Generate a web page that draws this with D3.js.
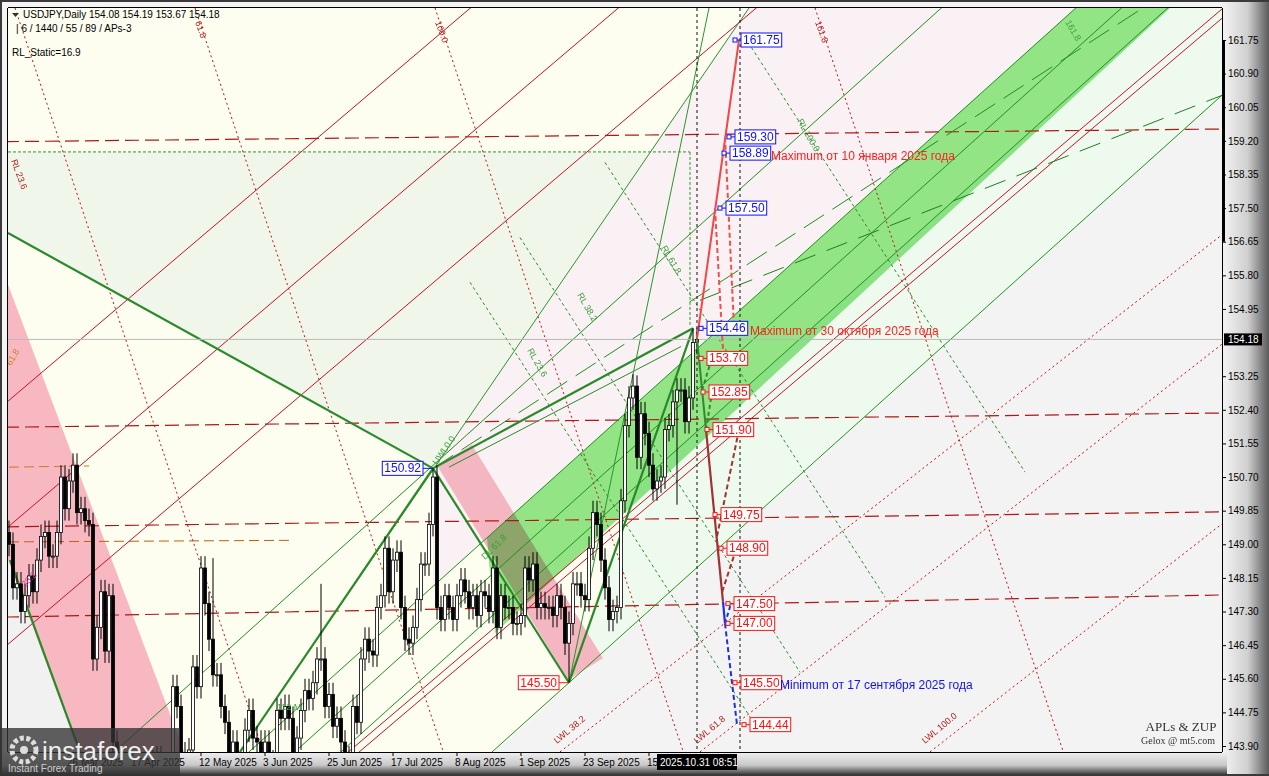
<!DOCTYPE html>
<html><head><meta charset="utf-8">
<script src="https://cdn.jsdelivr.net/npm/d3@7"></script>
<style>body{margin:0;background:#555;}svg{display:block;font-family:"Liberation Sans",Arial,sans-serif;}</style>
</head><body><svg id="c" width="1269" height="776"></svg>
<script>
// ---------- data ----------
const startDate = "2025-03-05";
const closes = [149.0,147.9,148.0,147.3,147.7,148.2,147.8,148.6,149.2,149.3,148.7,148.7,149.3,150.7,149.9,150.6,151.0,149.8,149.9,
149.6,149.5,146.1,146.9,147.8,146.3,147.7,144.0,143.5,143.1,143.2,141.8,142.4,142.2,140.8,141.6,143.5,142.6,143.6,142.0,142.3,143.1,
145.4,144.9,143.7,142.5,143.8,145.9,145.4,148.4,147.5,146.6,145.7,145.7,144.9,144.5,143.6,144.0,142.6,142.8,144.3,144.8,144.1,144.0,
142.7,144.0,142.8,143.5,144.8,144.6,144.9,144.6,143.5,144.1,144.8,145.3,145.1,145.5,146.1,146.1,144.9,145.2,144.4,144.6,144.0,
143.6,143.6,144.9,144.5,146.1,146.6,146.3,146.2,147.4,147.7,148.9,147.8,148.6,148.8,147.4,146.6,146.5,146.9,147.6,148.5,148.5,149.5,150.7,
147.4,147.1,147.7,147.4,147.1,147.7,148.1,147.8,147.4,147.7,147.2,147.8,147.7,147.3,148.4,146.9,147.7,147.4,147.4,147.0,147.0,
147.2,148.4,148.1,148.5,147.4,147.5,147.4,147.4,147.2,147.7,147.4,146.5,147.0,148.0,148.0,147.7,147.6,148.9,149.8,149.5,148.6,147.9,
147.1,147.3,147.4,150.1,152.0,152.7,153.0,151.2,152.3,151.8,151.0,150.4,150.6,150.7,151.9,152.0,152.6,152.9,152.9,152.1,152.7,154.1,154.18];
const firstOpen = 149.3;
const highOverride = {106:150.92, 171:154.46, 51:148.65, 78:148.0, 157:153.27};
const lowOverride = {140:145.50, 167:150.0};
const priceTicks = [161.75,160.90,160.05,159.20,158.35,157.50,156.65,155.80,154.95,153.25,152.40,151.55,150.70,149.85,149.00,148.15,147.30,146.45,145.60,144.75,143.90];
const dateLabels = [["26 Mar 2025",15],["17 Apr 2025",31],["12 May 2025",48],["3 Jun 2025",64],["25 Jun 2025",80],["17 Jul 2025",96],["8 Aug 2025",112],["1 Sep 2025",128],["23 Sep 2025",144],["15 Oct 2025",160]];
const hLevels = [[159.18,159.50],[151.96,152.32],[149.44,149.82],[147.16,147.72]];
const blueBoxes = [[161.75,183],[159.30,181.5],[158.89,180.25],[157.50,179.25],[154.46,174.5]];
const redBoxes = [[153.70,174.5],[152.85,175],[151.90,176],[149.75,178],[148.90,179.5],[147.50,181.25],[147.00,181.25],[145.50,183],[144.44,185.25]];
const lastPrice = 154.18;

// ---------- scales ----------
const svg = d3.select("#c");
const X0=8, X1=1222, Y0=8, Y1=752;
const x = d3.scaleLinear().domain([0,303]).range([9,1221]);
const y = d3.scaleLinear().domain([143.90,161.75]).range([746,40]);
const P = (i,p)=>[x(i),y(p)];

// frame
svg.append("rect").attr("width",1269).attr("height",776).attr("fill","#3a3a3a");
const g0 = svg.append("defs");
const gr = g0.append("linearGradient").attr("id","rs").attr("x1","0").attr("x2","1");
gr.append("stop").attr("offset","0").attr("stop-color","#f4f4f4");
gr.append("stop").attr("offset","0.55").attr("stop-color","#cfcfcf");
gr.append("stop").attr("offset","1").attr("stop-color","#5a5a5a");
const gb = g0.append("linearGradient").attr("id","bs").attr("x1","0").attr("x2","0").attr("y1","0").attr("y2","1");
gb.append("stop").attr("offset","0").attr("stop-color","#f0f0f0");
gb.append("stop").attr("offset","0.6").attr("stop-color","#c8c8c8");
gb.append("stop").attr("offset","1").attr("stop-color","#444");
svg.append("rect").attr("x",2).attr("y",2).attr("width",1240).attr("height",770).attr("fill","#f4f4f4");
svg.append("rect").attr("x",1222).attr("y",2).attr("width",47).attr("height",772).attr("fill","url(#rs)");
svg.append("rect").attr("x",2).attr("y",752).attr("width",1225).attr("height",22).attr("fill","url(#bs)");
g0.append("clipPath").attr("id","pc").append("rect").attr("x",X0).attr("y",Y0).attr("width",X1-X0).attr("height",Y1-Y0);
const plot = svg.append("g").attr("clip-path","url(#pc)");
plot.append("rect").attr("x",X0).attr("y",Y0).attr("width",X1-X0).attr("height",Y1-Y0).attr("fill","#fdfdf0");

const poly=(pts,fill,extra)=>{const e=plot.append("polygon").attr("points",pts.map(q=>P(q[0],q[1]).join(",")).join(" ")).attr("fill",fill);if(extra)extra(e);return e;};
const ln=(a,b,col,w,dash)=>plot.append("line").attr("x1",x(a[0])).attr("y1",y(a[1])).attr("x2",x(b[0])).attr("y2",y(b[1])).attr("stroke",col).attr("stroke-width",w||1).attr("stroke-dasharray",dash||null);

const s=0.091, ref=182.75;
const fam=(p)=>[[-5,p+(-5-ref)*s],[310,p+(310-ref)*s]];
const at=(p,i)=>p+(i-ref)*s;
const bandU=154.92, bandL=152.83, bandM=153.88, lowL=149.39, topG=157.98;

poly([[-0.25,158.92],[170.25,158.92],[171,154.46],[106,150.92],[-0.25,156.87]],"#f0f6ea");
poly([[106,150.92],[185,162.6],[310,162.6],[310,at(bandU,310)],[106,at(bandU,106)]],"#f9f1f3");
poly([[140,145.5],[157.4,150.53],[310,at(bandL,310)],[310,at(lowL,310)]],"#eefaee");
poly([[120.8,143.7],[310,143.7],[310,at(lowL,310)]],"#f3f3f3");
poly([[-0.25,148.6],[17.75,143.7],[-0.25,143.7]],"#f1f1f1");
poly([[-0.25,155.56],[44,143.7],[17.75,143.7],[-0.25,148.6]],"#f7b8c2");
poly([[107,151.0],[115.75,151.51],[148.5,146.12],[139.75,145.57]],"#f4b6c0");
poly([[119.5,at(bandU,119.5)],[310,at(bandU,310)],[310,at(bandL,310)],[121.5,at(bandL,121.5)-0.5]],"#93e68d",e=>e.style("mix-blend-mode","multiply"));

hLevels.forEach(h=>ln([-1,h[0]],[304,h[1]],"#b01818",1.2,"14,6"));
ln([0,150.95],[20,150.98],"#d07820",1,"10,5");ln([0,149.06],[70,149.1],"#c06010",1,"10,5");

[[7.75,147.16],[18.5,151.05],[217.75,155.18],[303.25,162.3],[60,157.8]].forEach(r=>{const k=0.086;ln([-5,r[1]+(-5-r[0])*k],[310,r[1]+(310-r[0])*k],"#c8102e",1);});
[1.5,46.5,106.5,201.5].forEach(i0=>{const k=-0.303;ln([i0,162.56],[i0+70,162.56+70*k],"#c01010",1,"2,3");});
[137.75,172.75,230.25].forEach(i0=>{ln([i0,143.75],[310,143.75+(310-i0)*0.079],"#c01010",1,"2,3");});
[[164,156.3],[142.75,154.4],[130.25,153.27],[199,159.46]].forEach(r=>{ln([r[0]-15,r[1]+15*0.157],[r[0]+55,r[1]-55*0.157],"#2a8a2a",1,"3,3");});
ln([-0.25,158.92],[170.25,158.92],"#2a9a2a",1,"3,2");ln([170.25,158.92],[170.25,154.5],"#2a9a2a",1,"3,2");
[topG,bandU,bandM,bandL,lowL].forEach(p=>{const f=fam(p);ln(f[0],f[1],"#1f8f1f",1);});
ln([172.75,155.17],[303.25,160.35],"#1f7f1f",1,"22,12");
ln([106,150.92],[310,164.3],"#1f8f1f",1,"24,10");
ln([57.75,143.75],[185,162.56],"#2a962a",1);
ln([-0.25,156.87],[106,150.92],"#2a8a2a",2.2);
ln([57.75,143.75],[106,150.92],"#2a8a2a",2.2);
ln([0.25,148.6],[17.75,143.75],"#2a8a2a",2.2);
ln([106,150.92],[171,154.46],"#2a8a2a",2.2);
ln([110,150.95],[168,154.0],"#2a8a2a",1);
ln([106,150.92],[140,145.5],"#2a8a2a",2.2);
ln([140,145.5],[171,154.46],"#2a8a2a",2.2);
ln([140,145.5],[175,162.56],"#2a962a",1);
ln([-1,lastPrice],[304,lastPrice],"#b8b8b8",1);
[172,182.75].forEach(i=>plot.append("line").attr("x1",x(i)).attr("x2",x(i)).attr("y1",Y0).attr("y2",Y1).attr("stroke","#111").attr("stroke-dasharray","3,3"));

const bars=closes.map((c,i)=>{const o=i?closes[i-1]:firstOpen;return{i,o,c,h:highOverride[i]??Math.max(o,c)+0.3,l:lowOverride[i]??Math.min(o,c)-0.3};});
const cg=plot.append("g");
cg.selectAll("line").data(bars).join("line").attr("x1",d=>x(d.i)).attr("x2",d=>x(d.i)).attr("y1",d=>y(d.h)).attr("y2",d=>y(d.l)).attr("stroke","#000");
cg.selectAll("rect").data(bars).join("rect").attr("x",d=>x(d.i)-1.5).attr("width",3)
 .attr("y",d=>y(Math.max(d.o,d.c))).attr("height",d=>Math.max(1,Math.abs(y(d.o)-y(d.c))))
 .attr("fill",d=>d.c>=d.o?"#fff":"#000").attr("stroke","#000").attr("stroke-width",0.8);

ln([172,154.2],[182.5,161.75],"#f04848",2);
ln([179,159.3],[181.2,154.6],"#f05050",2,"5,3");
ln([176.5,157.5],[178.5,153.9],"#f05050",2,"5,3");
ln([172,154.2],[174.25,151.9],"#2e8b2e",2);
ln([173.3,152.9],[176,153.8],"#2e8b2e",2,"4,3");
ln([174.25,151.9],[176,153.0],"#2e8b2e",2,"4,3");
ln([174.25,151.9],[178.5,147.55],"#a03232",2.2);
ln([177,149.2],[182.5,151.9],"#a03232",2,"5,3");
ln([178.3,147.8],[182.5,149.1],"#a03232",2,"5,3");
ln([178.5,147.55],[179,147.0],"#2030e0",2.2);
ln([179,147.0],[180.5,147.5],"#2030e0",2,"4,3");
ln([179,147.0],[182,144.44],"#2030e0",2,"5,3");

function box(p,i,col,left){const bx=x(i),by=y(p);const gg=plot.append("g");
 const t=gg.append("text").attr("y",by+4).attr("fill",col).attr("font-size",12).text(p.toFixed(2));
 const w=t.node().getComputedTextLength();
 const rx = left ? bx-10-(w+4) : bx;
 t.attr("x",rx+2);
 gg.insert("rect","text").attr("x",rx).attr("y",by-7).attr("width",w+4).attr("height",14).attr("fill","#fff").attr("stroke",col);
 gg.append("line").attr("x1",left?bx-10:bx-6).attr("x2",bx).attr("y1",by).attr("y2",by).attr("stroke",col);
 if(!left) gg.append("rect").attr("x",bx-8).attr("y",by-2).attr("width",4).attr("height",4).attr("fill","#fff").attr("stroke",col);}
blueBoxes.forEach(b=>box(b[0],b[1],"#1010ff"));
redBoxes.forEach(b=>box(b[0],b[1],"#ff1010"));
box(150.92,106,"#1010ff",true);
box(145.50,140,"#ff1010",true);

const txt=(s,i,p,col,fs,rot)=>{const t=plot.append("text").attr("x",x(i)).attr("y",y(p)).attr("fill",col).attr("font-size",fs).text(s);if(rot)t.attr("transform",`rotate(${rot},${x(i)},${y(p)})`);return t;};
txt("Maximum от 10 января 2025 года",190.5,158.72,"#ff2020",12);
txt("Maximum от 30 октября 2025 года",185.25,154.3,"#ff2020",12);
txt("Minimum от 17 сентября 2025 года",192.75,145.35,"#1010ff",12);
[["UWL0.0",107,151.0,"#3aa03a",-55],["DL 61.8",119,148.6,"#3aa03a",-45],["RL 23.6",129.5,153.9,"#3aa03a",60],["RL 38.2",142,155.3,"#3aa03a",60],["RL 61.8",163,156.5,"#3aa03a",60],["RL 100.0",197,159.7,"#3aa03a",60],
 ["LWL 38.2",137,143.95,"#b02020",-40],["LWL 61.8",172,143.95,"#b02020",-40],["LWL 100.0",229,143.95,"#b02020",-40],
 ["100.0",106.5,162.2,"#b02020",70],["61.8",46.5,162.2,"#b02020",70],["161.8",201.5,162.2,"#b02020",70],["161.8",264,162.2,"#3aa03a",60],
 ["RL 23.6",0.5,158.7,"#b02020",70],["61.8",0.5,153.5,"#d08020",-60],["38.2",4,147.9,"#d040a0",-45],["112 M",67,144.8,"#3aa03a",0]
].forEach(a=>txt(a[0],a[1],a[2],a[3],9,a[4]));
plot.append("text").attr("x",1181).attr("y",731).attr("text-anchor","middle").attr("font-size",13).attr("font-family","Liberation Serif,serif").attr("fill","#333").text("APLs & ZUP");
plot.append("text").attr("x",1178).attr("y",744).attr("text-anchor","middle").attr("font-size",10).attr("font-family","Liberation Serif,serif").attr("fill","#333").text("Gelox @ mt5.com");

const hd=svg.append("g").attr("font-size",10).attr("fill","#000");
hd.append("path").attr("d","M12,13 L19,13 L15.5,17 Z").attr("fill","#333");
hd.append("text").attr("x",23).attr("y",18).text("USDJPY,Daily  154.08 154.19 153.67 154.18");
hd.append("text").attr("x",16).attr("y",32).text("| 6 / 1440 / 55 / 89 / APs-3");
hd.append("text").attr("x",12).attr("y",56).text("RL_Static=16.9");

svg.append("line").attr("x1",X1+0.5).attr("x2",X1+0.5).attr("y1",Y0).attr("y2",Y1).attr("stroke","#000");
svg.append("line").attr("x1",X0).attr("x2",X1).attr("y1",Y1+0.5).attr("y2",Y1+0.5).attr("stroke","#000");
svg.append("line").attr("x1",X0-0.5).attr("x2",X0-0.5).attr("y1",Y0).attr("y2",Y1).attr("stroke","#000");
svg.append("line").attr("x1",X0).attr("x2",X1).attr("y1",Y0-0.5).attr("y2",Y0-0.5).attr("stroke","#000");
svg.append("line").attr("x1",X1+1.5).attr("x2",X1+1.5).attr("y1",y(161.75)).attr("y2",y(156.65)).attr("stroke","#000").attr("stroke-width",3);
const ax=svg.append("g").attr("transform",`translate(${X1},0)`).call(d3.axisRight(y).tickValues(priceTicks).tickFormat(d3.format(".2f")).tickSize(4));
ax.select(".domain").remove();
ax.selectAll("text").attr("font-size",10).attr("font-family","Liberation Sans,Arial,sans-serif").attr("fill","#000").attr("x",6);
ax.selectAll("line").attr("stroke","#000");
{const yy=y(lastPrice);svg.append("rect").attr("x",X1+2).attr("y",yy-6).attr("width",38).attr("height",12).attr("fill","#000");
svg.append("text").attr("x",X1+6).attr("y",yy+4).attr("fill","#fff").attr("font-size",10).text(lastPrice.toFixed(2));}
const tx=svg.append("g");
dateLabels.forEach(d=>{tx.append("line").attr("x1",x(d[1])).attr("x2",x(d[1])).attr("y1",Y1).attr("y2",Y1+4).attr("stroke","#000");
 tx.append("text").attr("x",x(d[1])-2).attr("y",Y1+14).attr("font-size",10).attr("fill","#000").text(d[0]);});
svg.append("rect").attr("x",x(172)-40).attr("y",Y1+2).attr("width",80).attr("height",16).attr("fill","#000");
svg.append("text").attr("x",x(172)-37).attr("y",Y1+14).attr("font-size",10).attr("fill","#fff").text("2025.10.31 08:51");

const lg=svg.append("g");
lg.append("rect").attr("x",0).attr("y",728).attr("width",180).attr("height",48).attr("fill","#333").attr("opacity",0.78);
lg.append("circle").attr("cx",24).attr("cy",750).attr("r",12).attr("fill","none").attr("stroke","#ddd").attr("stroke-width",5).attr("stroke-dasharray","4,2.5");
lg.append("circle").attr("cx",24).attr("cy",750).attr("r",4).attr("fill","#ddd");
lg.append("text").attr("x",42).attr("y",760).attr("font-size",26).attr("fill","#eee").text("instaforex");
lg.append("text").attr("x",8).attr("y",772).attr("font-size",10).attr("fill","#ccc").text("Instant Forex Trading");
</script></body></html>
